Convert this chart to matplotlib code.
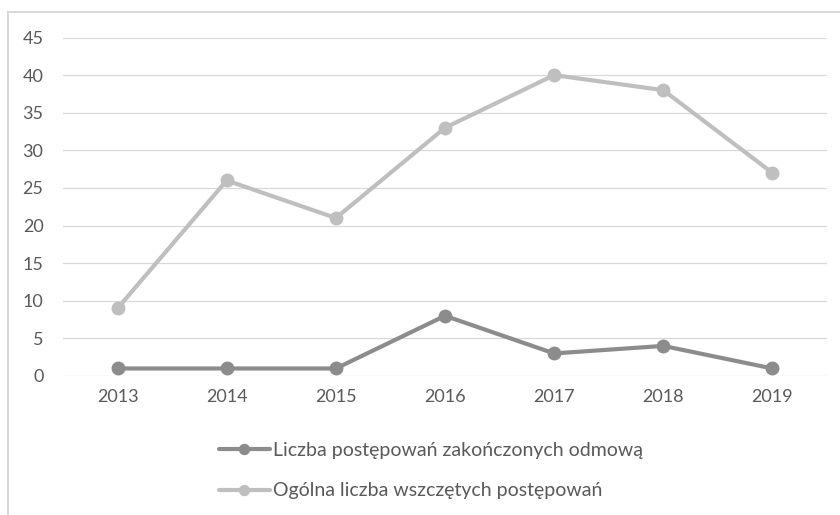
import numpy as np
import matplotlib
matplotlib.use("Agg")
import matplotlib.pyplot as plt
from matplotlib.lines import Line2D

# Font / style settings (Excel-like grey chart)
matplotlib.rc('font', family=['Lato', 'DejaVu Sans'], size=13)
TEXT = '#595959'
GRID = '#d9d9d9'

years = ['2013', '2014', '2015', '2016', '2017', '2018', '2019']
odmowa = [1, 1, 1, 8, 3, 4, 1]
ogolna = [9, 26, 21, 33, 40, 38, 27]
labels = ['Liczba postępowań zakończonych odmową',
          'Ogólna liczba wszczętych postępowań']
colors = ['#8c8c8c', '#bfbfbf']

fig = plt.figure(figsize=(8.4, 5.15), dpi=100)
ax = fig.add_axes([63/840, 1-376/515, (827-63)/840, (376-37.5)/515])

x = np.arange(len(years))
for vals, lab, col in zip([odmowa, ogolna], labels, colors):
    ax.plot(x, vals, color=col, lw=3, marker='o', ms=9, label=lab,
            solid_capstyle='round', zorder=3)

ax.set_xlim(-0.5, len(years) - 0.5)
ax.set_ylim(0, 45)
ax.set_yticks(range(0, 50, 5))
ax.set_xticks(x)
ax.set_xticklabels(years)
ax.grid(axis='y', color=GRID, lw=0.9)
ax.set_axisbelow(True)
for s in ax.spines.values():
    s.set_visible(False)
ax.tick_params(length=0, colors=TEXT, labelsize=13)
ax.tick_params(axis='y', pad=14)
ax.tick_params(axis='x', pad=9)

leg = fig.legend(loc='center', bbox_to_anchor=(0.513, 0.086), ncol=1,
                 frameon=False, handlelength=2.6, handletextpad=0.15,
                 labelspacing=1.2, fontsize=14, markerscale=0.8)
for t in leg.get_texts():
    t.set_color(TEXT)

# chart border (cropped: only top and left visible)
fig.add_artist(Line2D([8/840, 8/840], [0, 1-12/515], color=GRID, lw=1.5,
                      transform=fig.transFigure))
fig.add_artist(Line2D([8/840, 1], [1-12/515, 1-12/515], color=GRID, lw=1.5,
                      transform=fig.transFigure))

fig.savefig('out.png', dpi=100)
